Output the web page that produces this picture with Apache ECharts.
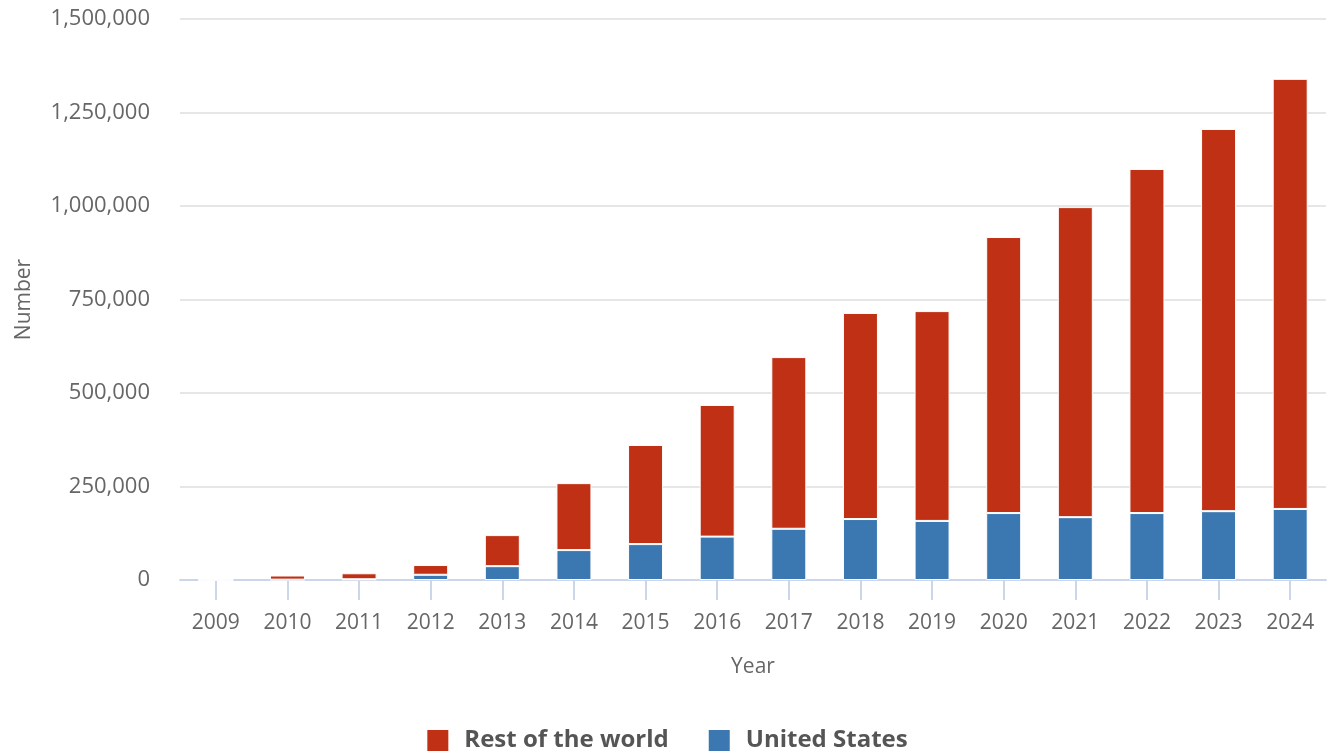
<!DOCTYPE html>
<html>
<head>
<meta charset="utf-8">
<script src="https://cdn.jsdelivr.net/npm/echarts@6/dist/echarts.min.js"></script>
<style>html,body{margin:0;padding:0;background:#fff;}#c{width:1333px;height:753px;}</style>
</head>
<body>
<div id="c"></div>
<script>
const years = ['2009','2010','2011','2012','2013','2014','2015','2016','2017','2018','2019','2020','2021','2022','2023','2024'];
const unitedStates = [0, 1000, 2000, 14000, 37000, 80000, 96000, 116000, 137000, 163000, 158000, 179000, 168000, 179000, 184000, 190000];
const restOfWorld = [500, 11000, 16000, 26000, 83000, 179000, 265000, 352000, 459000, 551000, 561000, 738000, 829000, 920000, 1022000, 1150000];
const yTicks = [0, 250000, 500000, 750000, 1000000, 1250000, 1500000];

const chart = echarts.init(document.getElementById('c'));
const font = '"Open Sans", "Noto Sans", sans-serif';
chart.setOption({
  animation: false,
  textStyle: { fontFamily: font },
  grid: { left: 180, right: 7, top: 19, bottom: 173, containLabel: false },
  legend: {
    bottom: -5, left: 'center',
    data: ['Rest of the world', 'United States'],
    icon: 'rect', itemWidth: 23, itemHeight: 23, itemGap: 38,
    textStyle: { fontFamily: font, fontSize: 24, fontWeight: 'bold', color: '#555', padding: [0, 0, 0, 10] }
  },
  xAxis: {
    type: 'category', data: years,
    name: 'Year', nameLocation: 'middle', nameGap: 77,
    nameTextStyle: { fontSize: 21, color: '#666', fontFamily: font },
    axisLine: { lineStyle: { color: '#ccd6eb', width: 2 } },
    axisTick: { show: true, alignWithLabel: true, length: 20, lineStyle: { color: '#ccd6eb', width: 2 } },
    axisLabel: { fontSize: 21, color: '#666', margin: 33, fontFamily: font }
  },
  yAxis: {
    type: 'value', min: 0, max: 1500000, interval: 250000,
    name: 'Number', nameLocation: 'middle', nameGap: 145,
    nameTextStyle: { fontSize: 21, color: '#666', fontFamily: font },
    axisLine: { show: false }, axisTick: { show: false },
    splitLine: { lineStyle: { color: '#e6e6e6', width: 2 } },
    axisLabel: {
      fontSize: 22, color: '#666', margin: 30, fontFamily: font,
      formatter: v => yTicks.includes(v) ? v.toLocaleString('en-US') : ''
    }
  },
  series: [
    { name: 'United States', type: 'bar', stack: 't', data: unitedStates, barWidth: 35,
      itemStyle: { color: '#3b78b1', borderColor: '#fff', borderWidth: 1 } },
    { name: 'Rest of the world', type: 'bar', stack: 't', data: restOfWorld, barWidth: 35,
      itemStyle: { color: '#bf3014', borderColor: '#fff', borderWidth: 1 } }
  ]
});
</script>
</body>
</html>
